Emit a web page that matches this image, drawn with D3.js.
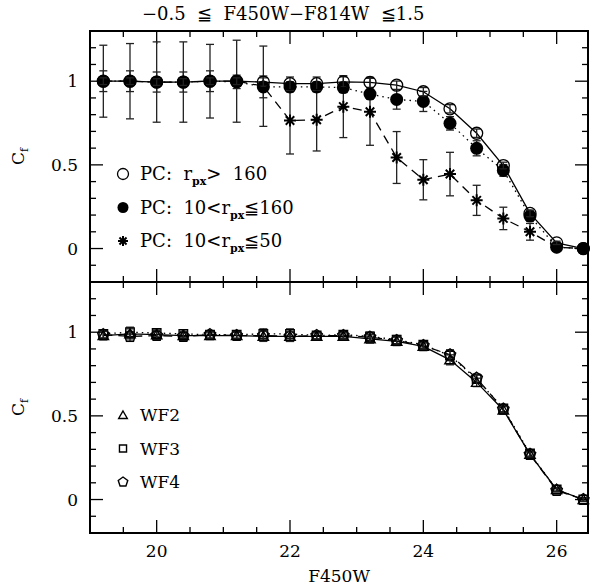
<!DOCTYPE html>
<html>
<head>
<meta charset="utf-8">
<script src="https://cdn.jsdelivr.net/npm/d3@7"></script>
<style>
  body { margin: 0; background: #fff; }
  svg text { font-family: "DejaVu Serif", serif; fill: #000; white-space: pre; }
</style>
</head>
<body>
<svg width="594" height="585"></svg>
<script>
// magnitude bins (F450W)
const mags = [19.2, 19.6, 20.0, 20.4, 20.8, 21.2, 21.6, 22.0, 22.4, 22.8, 23.2, 23.6, 24.0, 24.4, 24.8, 25.2, 25.6, 26.0, 26.4];

// top panel: PC completeness
const pcOuter    = [1.0, 1.0, 0.995, 0.995, 1.0, 1.0, 0.995, 0.985, 0.985, 0.996, 0.993, 0.976, 0.937, 0.835, 0.689, 0.496, 0.21, 0.034, 0.0];
const pcOuterErr = [0.02, 0.02, 0.02, 0.02, 0.02, 0.02, 0.025, 0.04, 0.04, 0.03, 0.03, 0.025, 0.025, 0.025, 0.025, 0.02, 0.02, 0.01, 0.0];
const pcMid      = [1.0, 1.0, 0.995, 0.995, 1.0, 0.996, 0.966, 0.966, 0.966, 0.962, 0.923, 0.891, 0.879, 0.748, 0.599, 0.467, 0.194, 0.008, 0.0];
const pcMidErr   = [0.062, 0.062, 0.06, 0.06, 0.062, 0.04, 0.065, 0.03, 0.03, 0.03, 0.03, 0.058, 0.06, 0.04, 0.045, 0.035, 0.03, 0.015, 0.01];
const pcInner    = [1.0, 1.0, 0.995, 0.995, 1.0, 1.0, 0.97, 0.765, 0.77, 0.848, 0.817, 0.544, 0.411, 0.445, 0.288, 0.18, 0.1, 0.008, 0.0];
const pcInnerErr = [0.215, 0.225, 0.24, 0.24, 0.22, 0.245, 0.24, 0.2, 0.187, 0.185, 0.2, 0.155, 0.12, 0.13, 0.09, 0.067, 0.05, 0.02, 0.0];

// bottom panel: WF chips
const wf2    = [0.98, 0.99, 0.985, 0.98, 0.98, 0.98, 0.975, 0.975, 0.975, 0.975, 0.96, 0.945, 0.915, 0.835, 0.70, 0.535, 0.27, 0.06, 0.0];
const wf3    = [0.99, 1.0, 0.995, 0.99, 0.985, 0.985, 0.99, 0.99, 0.98, 0.985, 0.975, 0.955, 0.925, 0.86, 0.72, 0.545, 0.275, 0.06, 0.0];
const wf4    = [0.985, 0.975, 0.98, 0.975, 0.985, 0.98, 0.98, 0.975, 0.98, 0.98, 0.97, 0.95, 0.92, 0.865, 0.725, 0.54, 0.27, 0.055, 0.0];
const wfErr  = [0.025, 0.03, 0.025, 0.025, 0.02, 0.02, 0.03, 0.03, 0.02, 0.02, 0.025, 0.025, 0.02, 0.03, 0.025, 0.02, 0.015, 0.01, 0.01];

const xTicksMajor = [20, 22, 24, 26];
const yTicksMajor = [0, 0.5, 1];

const svg = d3.select("svg");

const x = d3.scaleLinear().domain([19, 26.47]).range([90, 588]);
const yTop = d3.scaleLinear().domain([-0.2, 1.3]).range([282, 31]);
const yBot = d3.scaleLinear().domain([-0.2, 1.3]).range([533, 282]);

// frame + inward ticks on all sides
function frame(y) {
    const g = svg.append("g");
    const [y0, y1] = y.range();
    const [x0, x1] = x.range();
    const xt = d3.range(19.5, 26.5, 0.5);
    const yt = d3.range(-0.1, 1.3, 0.1);
    const isMajX = v => Math.abs(v / 2 - Math.round(v / 2)) < 1e-6;
    const isMajY = v => Math.abs(v * 2 - Math.round(v * 2)) < 1e-6;
    xt.forEach(v => {
        const len = isMajX(v) ? 13 : 6;
        g.append("line").attr("x1", x(v)).attr("x2", x(v)).attr("y1", y0).attr("y2", y0 - len);
        g.append("line").attr("x1", x(v)).attr("x2", x(v)).attr("y1", y1).attr("y2", y1 + len);
    });
    yt.forEach(v => {
        const len = isMajY(v) ? 13 : 6;
        g.append("line").attr("x1", x0).attr("x2", x0 + len).attr("y1", y(v)).attr("y2", y(v));
        g.append("line").attr("x1", x1).attr("x2", x1 - len).attr("y1", y(v)).attr("y2", y(v));
    });
    g.selectAll("line").attr("stroke", "#000").attr("stroke-width", 1.3);
    g.append("rect")
        .attr("x", x0).attr("y", y1)
        .attr("width", x1 - x0).attr("height", y0 - y1)
        .attr("fill", "none").attr("stroke", "#000").attr("stroke-width", 2);
    g.selectAll(".ylab")
        .data(yTicksMajor)
        .enter().append("text")
        .attr("x", 78).attr("y", d => y(d) + 6)
        .attr("text-anchor", "end")
        .attr("font-size", 17)
        .text(d => d);
    g.append("text")
        .attr("transform", `translate(24,${(y0 + y1) / 2}) rotate(-90)`)
        .attr("text-anchor", "middle")
        .attr("font-size", 17)
        .html('C<tspan font-size="11" dy="4">f</tspan>');
}

function series(y, vals, errs, dash, marker) {
    const pts = mags.map((m, i) => ({ m: m, v: vals[i], e: errs[i] }));
    const line = d3.line().x(d => x(d.m)).y(d => y(d.v));
    svg.append("path")
        .datum(pts)
        .attr("d", line)
        .attr("fill", "none")
        .attr("stroke", "#000")
        .attr("stroke-width", 1.3)
        .attr("stroke-dasharray", dash);
    const eb = svg.append("g").attr("stroke", "#222").attr("stroke-width", 1.3);
    pts.filter(d => d.e > 0).forEach(d => {
        eb.append("line").attr("x1", x(d.m)).attr("x2", x(d.m)).attr("y1", y(d.v - d.e)).attr("y2", y(d.v + d.e));
        eb.append("line").attr("x1", x(d.m) - 4).attr("x2", x(d.m) + 4).attr("y1", y(d.v - d.e)).attr("y2", y(d.v - d.e));
        eb.append("line").attr("x1", x(d.m) - 4).attr("x2", x(d.m) + 4).attr("y1", y(d.v + d.e)).attr("y2", y(d.v + d.e));
    });
    pts.forEach(d => marker(x(d.m), y(d.v)));
}

const openCircle = (cx, cy, r = 6) => svg.append("circle").attr("cx", cx).attr("cy", cy).attr("r", r)
    .attr("fill", "none").attr("stroke", "#000").attr("stroke-width", 1.3);
const filledCircle = (cx, cy, r = 6.5) => svg.append("circle").attr("cx", cx).attr("cy", cy).attr("r", r)
    .attr("fill", "#000");
const star = (cx, cy, s = 6) => {
    const p = d3.path();
    [0, 45, 90, 135].forEach(a => {
        const dx = s * Math.cos(a * Math.PI / 180), dy = s * Math.sin(a * Math.PI / 180);
        p.moveTo(cx - dx, cy - dy);
        p.lineTo(cx + dx, cy + dy);
    });
    svg.append("path").attr("d", p.toString()).attr("stroke", "#000").attr("stroke-width", 2);
};
const poly = (cx, cy, n, r, rot) => {
    const pts = d3.range(n).map(k => {
        const a = rot + k * 2 * Math.PI / n;
        return [cx + r * Math.cos(a), cy + r * Math.sin(a)];
    });
    svg.append("polygon").attr("points", pts.map(p => p.join(",")).join(" "))
        .attr("fill", "none").attr("stroke", "#000").attr("stroke-width", 1.4);
};
const triangle = (cx, cy, r = 6) => poly(cx, cy + 1, 3, r, -Math.PI / 2);
const square = (cx, cy, r = 6) => poly(cx, cy, 4, r, Math.PI / 4);
const pentagon = (cx, cy, r = 6) => poly(cx, cy, 5, r, -Math.PI / 2);

frame(yTop);
frame(yBot);

// top panel
series(yTop, pcInner, pcInnerErr, "9,6", star);
series(yTop, pcMid, pcMidErr, "1.5,4", filledCircle);
series(yTop, pcOuter, pcOuterErr, null, openCircle);

// bottom panel
series(yBot, wf3, wfErr, "1.5,4", square);
series(yBot, wf4, wfErr, "9,6", pentagon);
series(yBot, wf2, wfErr, null, triangle);

// x tick labels + axis title
svg.selectAll(".xlab")
    .data(xTicksMajor)
    .enter().append("text")
    .attr("x", d => x(d)).attr("y", 557)
    .attr("text-anchor", "middle")
    .attr("font-size", 17)
    .text(d => d);
svg.append("text").attr("x", 339).attr("y", 582).attr("text-anchor", "middle")
    .attr("font-size", 17).text("F450W");

// title
svg.append("text").attr("x", 142).attr("y", 20).attr("font-size", 18)
    .text("\u22120.5  \u2266  F450W\u2212F814W  \u22661.5");

// legends
const legTop = [
    { mk: openCircle, html: 'PC:  r<tspan font-size="11" font-weight="bold" dy="5">px</tspan><tspan dy="-5">&gt;  160</tspan>' },
    { mk: filledCircle, html: 'PC:  10&lt;r<tspan font-size="11" font-weight="bold" dy="5">px</tspan><tspan dy="-5">\u2266160</tspan>' },
    { mk: star, html: 'PC:  10&lt;r<tspan font-size="11" font-weight="bold" dy="5">px</tspan><tspan dy="-5">\u226650</tspan>' }
];
legTop.forEach((d, i) => {
    const cy = 174 + i * 33.5;
    d.mk(123, cy, d.mk === star ? 5 : 5.5);
    svg.append("text").attr("x", 140).attr("y", cy + 6).attr("font-size", 18).html(d.html);
});

const legBot = [
    { mk: triangle, label: "WF2" },
    { mk: square, label: "WF3" },
    { mk: pentagon, label: "WF4" }
];
legBot.forEach((d, i) => {
    const cy = 415 + i * 33.5;
    d.mk(123, cy, 5);
    svg.append("text").attr("x", 140).attr("y", cy + 6).attr("font-size", 17).text(d.label);
});
</script>
</body>
</html>
